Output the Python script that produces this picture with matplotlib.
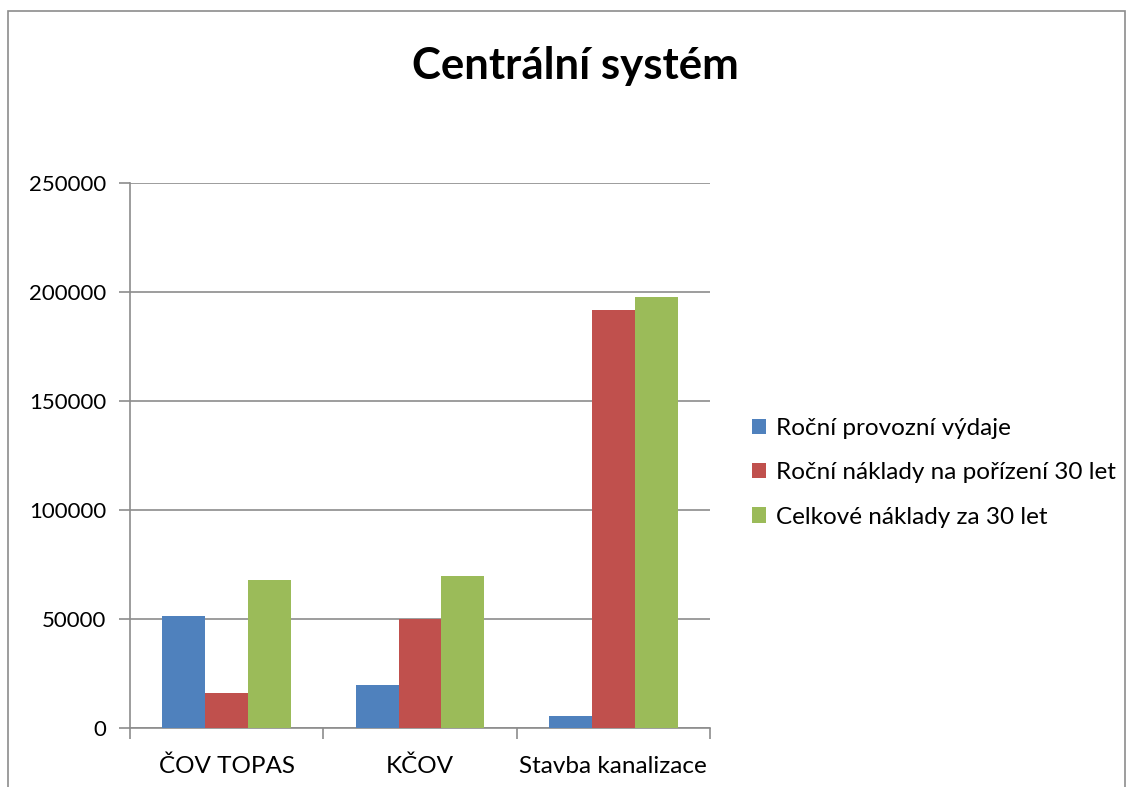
import matplotlib.pyplot as plt
import numpy as np
from matplotlib.patches import Rectangle

categories = ["ČOV TOPAS", "KČOV", "Stavba kanalizace"]
series_names = ["Roční provozní výdaje", "Roční náklady na pořízení 30 let", "Celkové náklady za 30 let"]
provozni = [51300, 19500, 5500]
porizeni = [15900, 50200, 191700]
celkem = [67700, 69800, 197500]
colors = ["#4F81BD", "#C0504D", "#9BBB59"]

plt.rcParams["font.family"] = ["Lato", "DejaVu Sans"]

fig = plt.figure(figsize=(11.32, 7.87), dpi=100)
ax = fig.add_axes([130 / 1132, 1 - 728 / 787, 580 / 1132, 545 / 787])

# chart frame
fig.patches.append(Rectangle((8 / 1132, -0.05), 1117 / 1132, 1.05 - 11 / 787,
                             transform=fig.transFigure, fill=False,
                             edgecolor="#8C8C8C", linewidth=1.2))

x = np.arange(len(categories))
w = 0.222
for i, (vals, name) in enumerate(zip([provozni, porizeni, celkem], series_names)):
    ax.bar(x + (i - 1) * w, vals, width=w, color=colors[i], label=name, zorder=3)

ax.set_xlim(-0.5, 2.5)
ax.set_ylim(0, 250000)
ax.set_yticks(range(0, 250001, 50000))
ax.set_xticks(x)
ax.set_xticklabels(categories)
ax.set_xticks([-0.5, 0.5, 1.5, 2.5], minor=True)
ax.tick_params(axis="x", which="major", length=0, pad=20, labelsize=17.5)
ax.tick_params(axis="x", which="minor", length=8, color="#8C8C8C", width=1.2)
ax.tick_params(axis="y", length=8, color="#8C8C8C", width=1.2, pad=9, labelsize=16)
ax.grid(axis="y", color="#8C8C8C", linewidth=1.2, zorder=0)
for s in ["top", "right"]:
    ax.spines[s].set_visible(False)
for s in ["left", "bottom"]:
    ax.spines[s].set_color("#8C8C8C")
    ax.spines[s].set_linewidth(1.2)

fig.text(0.508, 1 - 66 / 787, "Centrální systém", ha="center", va="center",
         fontsize=31.5, fontweight="bold")

ax.legend(loc="center left", bbox_to_anchor=(1.072, 0.468), frameon=False,
          fontsize=17.5, handlelength=0.58, handleheight=0.58, handletextpad=0.42,
          labelspacing=0.95, borderpad=0, borderaxespad=0)

fig.savefig("out.png", dpi=100)
